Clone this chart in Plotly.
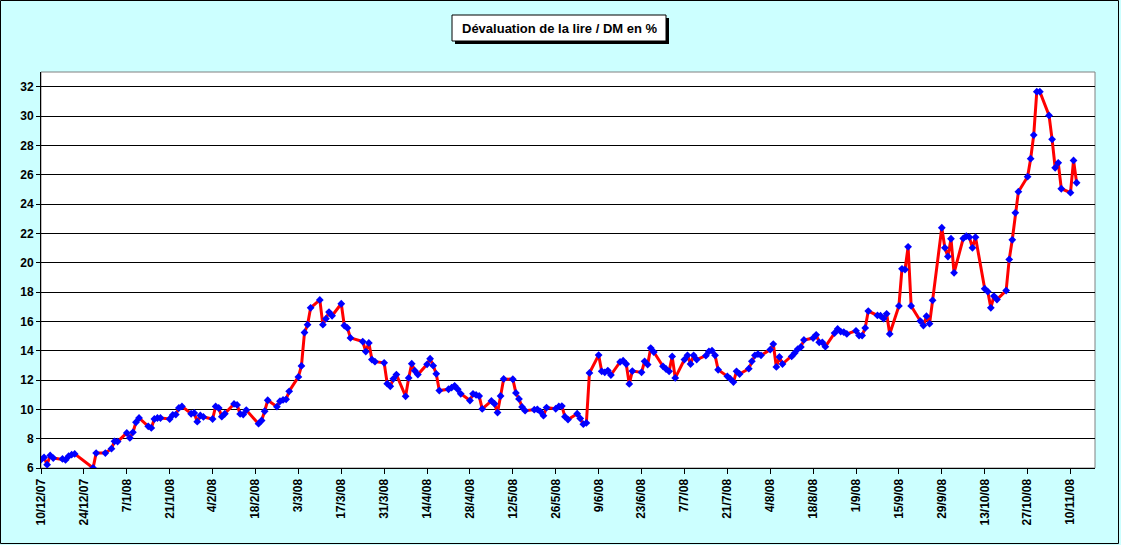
import plotly.graph_objects as go

# ---------------- data ----------------
dates = [
    "2007-12-10", "2007-12-11", "2007-12-12", "2007-12-13", "2007-12-14",
    "2007-12-17", "2007-12-18", "2007-12-19", "2007-12-20", "2007-12-21",
    "2007-12-27", "2007-12-28", "2007-12-31",
    "2008-01-02", "2008-01-03", "2008-01-04",
    "2008-01-07", "2008-01-08", "2008-01-09", "2008-01-10", "2008-01-11",
    "2008-01-14", "2008-01-15", "2008-01-16", "2008-01-17", "2008-01-18",
    "2008-01-21", "2008-01-22", "2008-01-23", "2008-01-24", "2008-01-25",
    "2008-01-28", "2008-01-29", "2008-01-30", "2008-01-31", "2008-02-01",
    "2008-02-04", "2008-02-05", "2008-02-06", "2008-02-07", "2008-02-08",
    "2008-02-11", "2008-02-12", "2008-02-13", "2008-02-14", "2008-02-15",
    "2008-02-19", "2008-02-20", "2008-02-21", "2008-02-22",
    "2008-02-25", "2008-02-26", "2008-02-27", "2008-02-28", "2008-02-29",
    "2008-03-03", "2008-03-04", "2008-03-05", "2008-03-06", "2008-03-07",
    "2008-03-10", "2008-03-11", "2008-03-12", "2008-03-13", "2008-03-14",
    "2008-03-17", "2008-03-18", "2008-03-19", "2008-03-20",
    "2008-03-24", "2008-03-25", "2008-03-26", "2008-03-27", "2008-03-28",
    "2008-03-31", "2008-04-01", "2008-04-02", "2008-04-03", "2008-04-04",
    "2008-04-07", "2008-04-08", "2008-04-09", "2008-04-10", "2008-04-11",
    "2008-04-14", "2008-04-15", "2008-04-16", "2008-04-17", "2008-04-18",
    "2008-04-21", "2008-04-22", "2008-04-23", "2008-04-24", "2008-04-25",
    "2008-04-28", "2008-04-29", "2008-04-30", "2008-05-01", "2008-05-02",
    "2008-05-05", "2008-05-06", "2008-05-07", "2008-05-08", "2008-05-09",
    "2008-05-12", "2008-05-13", "2008-05-14", "2008-05-15", "2008-05-16",
    "2008-05-19", "2008-05-20", "2008-05-21", "2008-05-22", "2008-05-23",
    "2008-05-26", "2008-05-27", "2008-05-28", "2008-05-29", "2008-05-30",
    "2008-06-02", "2008-06-03", "2008-06-04", "2008-06-05", "2008-06-06",
    "2008-06-09", "2008-06-10", "2008-06-11", "2008-06-12", "2008-06-13",
    "2008-06-16", "2008-06-17", "2008-06-18", "2008-06-19", "2008-06-20",
    "2008-06-23", "2008-06-24", "2008-06-25", "2008-06-26", "2008-06-27",
    "2008-06-30", "2008-07-01", "2008-07-02", "2008-07-03", "2008-07-04",
    "2008-07-07", "2008-07-08", "2008-07-09", "2008-07-10", "2008-07-11",
    "2008-07-14", "2008-07-15", "2008-07-16", "2008-07-17", "2008-07-18",
    "2008-07-21", "2008-07-22", "2008-07-23", "2008-07-24", "2008-07-25",
    "2008-07-28", "2008-07-29", "2008-07-30", "2008-07-31", "2008-08-01",
    "2008-08-04", "2008-08-05", "2008-08-06", "2008-08-07", "2008-08-08",
    "2008-08-11", "2008-08-12", "2008-08-13", "2008-08-14", "2008-08-15",
    "2008-08-18", "2008-08-19", "2008-08-20", "2008-08-21", "2008-08-22",
    "2008-08-25", "2008-08-26", "2008-08-27", "2008-08-28", "2008-08-29",
    "2008-09-01", "2008-09-02", "2008-09-03", "2008-09-04", "2008-09-05",
    "2008-09-08", "2008-09-09", "2008-09-10", "2008-09-11", "2008-09-12",
    "2008-09-15", "2008-09-16", "2008-09-17", "2008-09-18", "2008-09-19",
    "2008-09-22", "2008-09-23", "2008-09-24", "2008-09-25", "2008-09-26",
    "2008-09-29", "2008-09-30", "2008-10-01", "2008-10-02", "2008-10-03",
    "2008-10-06", "2008-10-07", "2008-10-08", "2008-10-09", "2008-10-10",
    "2008-10-13", "2008-10-14", "2008-10-15", "2008-10-16", "2008-10-17",
    "2008-10-20", "2008-10-21", "2008-10-22", "2008-10-23", "2008-10-24",
    "2008-10-27", "2008-10-28", "2008-10-29", "2008-10-30", "2008-10-31",
    "2008-11-03", "2008-11-04", "2008-11-05", "2008-11-06", "2008-11-07",
    "2008-11-10", "2008-11-11", "2008-11-12",
]

devaluation = [
    6.57, 6.72, 6.23, 6.86, 6.68,
    6.62, 6.55, 6.80, 6.91, 6.96,
    6.00, 7.02, 7.02,
    7.32, 7.82, 7.80,
    8.39, 8.05, 8.43, 9.12, 9.41,
    8.84, 8.73, 9.34, 9.41, 9.41,
    9.34, 9.62, 9.64, 10.09, 10.20,
    9.70, 9.75, 9.16, 9.58, 9.48,
    9.34, 10.20, 10.09, 9.50, 9.70,
    10.37, 10.30, 9.69, 9.64, 9.95,
    9.02, 9.24, 9.87, 10.62,
    10.18, 10.55, 10.64, 10.68, 11.23,
    12.21, 12.96, 15.24, 15.77, 16.92,
    17.46, 15.77, 16.18, 16.63, 16.38,
    17.20, 15.71, 15.55, 14.87,
    14.62, 13.94, 14.53, 13.39, 13.25,
    13.17, 11.75, 11.57, 12.08, 12.37,
    10.89, 12.14, 13.11, 12.63, 12.37,
    13.07, 13.45, 12.98, 12.42, 11.28,
    11.37, 11.48, 11.60, 11.37, 11.06,
    10.60, 11.06, 10.98, 10.91, 10.03,
    10.57, 10.38, 9.78, 10.91, 12.07,
    12.05, 11.12, 10.71, 10.16, 9.91,
    9.98, 10.00, 9.85, 9.57, 10.12,
    10.04, 10.20, 10.22, 9.50, 9.30,
    9.70, 9.38, 8.99, 9.07, 12.48,
    13.70, 12.59, 12.52, 12.64, 12.34,
    13.23, 13.32, 13.09, 11.73, 12.61,
    12.52, 13.27, 13.05, 14.18, 13.91,
    12.93, 12.75, 12.59, 13.61, 12.14,
    13.39, 13.68, 13.09, 13.68, 13.39,
    13.66, 13.95, 14.00, 13.68, 12.70,
    12.25, 12.07, 11.86, 12.59, 12.41,
    12.77, 13.27, 13.68, 13.77, 13.68,
    14.07, 14.45, 12.89, 13.57, 13.09,
    13.61, 13.84, 14.11, 14.25, 14.73,
    14.86, 15.08, 14.57, 14.57, 14.27,
    15.20, 15.48, 15.30, 15.27, 15.14,
    15.35, 15.03, 15.03, 15.55, 16.70,
    16.40, 16.38, 16.19, 16.51, 15.14,
    17.05, 19.58, 19.53, 21.08, 17.05,
    16.02, 15.71, 16.35, 15.84, 17.43,
    22.38, 21.01, 20.42, 21.63, 19.31,
    21.65, 21.81, 21.74, 21.01, 21.74,
    18.22, 18.03, 16.92, 17.72, 17.49,
    18.10, 20.22, 21.56, 23.40, 24.84,
    25.86, 27.09, 28.70, 31.66, 31.66,
    30.04, 28.41, 26.47, 26.81, 25.04,
    24.77, 26.97, 25.45,
]

title_text = "Dévaluation de la lire / DM en %"
y_ticks = [6, 8, 10, 12, 14, 16, 18, 20, 22, 24, 26, 28, 30, 32]

# ---------------- layout geometry (pixels) ----------------
W, H = 1121, 545
L, R, T, B = 41, 1095, 72, 468


def px(x):
    return (x - L) / (R - L)


def py(y):
    return (B - y) / (B - T)


fig = go.Figure()
fig.add_trace(go.Scatter(
    x=dates, y=devaluation, mode="lines+markers",
    line=dict(color="#FF0000", width=3),
    marker=dict(symbol="diamond", size=6, color="#0000FF",
                line=dict(width=0)),
    showlegend=False, hoverinfo="x+y",
))

font_main = "Liberation Sans, Arial, sans-serif"

fig.update_layout(
    width=W, height=H,
    margin=dict(l=L, r=W - R, t=T, b=H - B, pad=0),
    paper_bgcolor="#CCFFFF",
    plot_bgcolor="#FFFFFF",
    showlegend=False,
    xaxis=dict(
        type="date",
        range=["2007-12-10", "2008-11-18"],
        tick0="2007-12-10", dtick=14 * 86400000,
        tickformat="%-d/%-m/%y",
        tickangle=-90,
        ticks="outside", ticklen=5, tickcolor="#000000", tickwidth=1,
        showgrid=False, zeroline=False,
        showline=True, linecolor="#000000", linewidth=1,
        tickfont=dict(family="Liberation Sans Narrow, " + font_main,
                      size=12, color="#000000", weight="bold"),
        fixedrange=True,
    ),
    yaxis=dict(
        range=[6, 33],
        tickvals=y_ticks,
        ticks="outside", ticklen=4, tickcolor="#000000", tickwidth=1,
        showgrid=True, gridcolor="#000000", gridwidth=1,
        zeroline=False,
        showline=True, linecolor="#000000", linewidth=1,
        tickfont=dict(family=font_main, size=12, color="#000000",
                      weight="bold"),
        fixedrange=True,
    ),
    shapes=[
        # gray plot-area frame
        dict(type="rect", xref="paper", yref="paper",
             x0=0, x1=1, y0=0, y1=1,
             line=dict(color="#808080", width=1), layer="below"),
        # outer chart border
        dict(type="rect", xref="paper", yref="paper",
             x0=px(0.5), x1=px(1118.5), y0=py(543.5), y1=py(0.5),
             line=dict(color="#000000", width=1)),
        # title shadow
        dict(type="rect", xref="paper", yref="paper",
             x0=px(455), x1=px(669), y0=py(44), y1=py(18),
             fillcolor="#000000", line=dict(width=0)),
        # title box
        dict(type="rect", xref="paper", yref="paper",
             x0=px(452), x1=px(666), y0=py(41), y1=py(15),
             fillcolor="#FFFFFF", line=dict(color="#000000", width=1)),
    ],
    annotations=[
        dict(text=title_text, xref="paper", yref="paper",
             x=px(559), y=py(28.5), xanchor="center", yanchor="middle",
             showarrow=False,
             font=dict(family=font_main, size=13, color="#000000",
                       weight="bold")),
    ],
)

fig.write_html(
    "out.html",
    config={"displayModeBar": False},
    post_script="document.body.style.margin='0';"
                "document.body.style.overflow='hidden';",
)
